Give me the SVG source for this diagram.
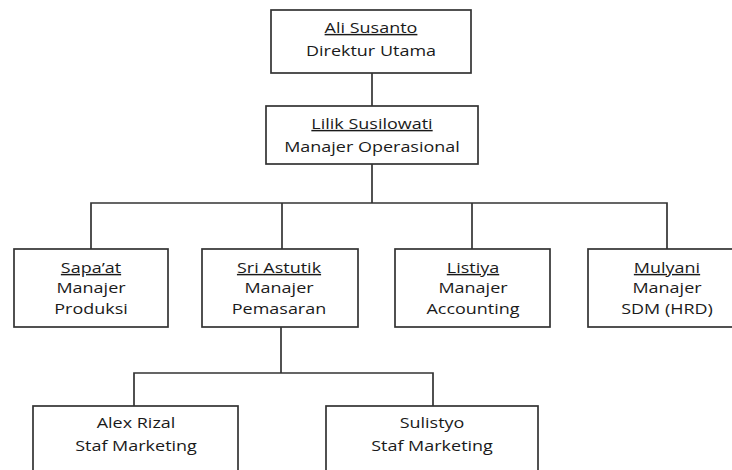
<svg xmlns="http://www.w3.org/2000/svg" width="732" height="470" viewBox="0 0 732 470">
<style>
.box{fill:#fff;stroke:#333;stroke-width:1.7}
.ln{fill:none;stroke:#333;stroke-width:1.7}
text{font-family:"Open Sans","Liberation Sans",sans-serif;font-size:14.5px;font-weight:500;fill:#1a1a1a;text-anchor:middle}
.u{text-decoration:underline}
</style>
<rect width="732" height="470" fill="#fff"/>
<g id="connectors">
<path class="ln" d="M372,73V106"/>
<path class="ln" d="M372,164V203"/>
<path class="ln" d="M91,249V203H667V249"/>
<path class="ln" d="M282,203V249"/>
<path class="ln" d="M472,203V249"/>
<path class="ln" d="M281,327V373"/>
<path class="ln" d="M134,406V373H433V406"/>
</g>
<g id="ali">
<rect class="box" x="271" y="10" width="200" height="63"/>
<text class="u" transform="translate(371,33) scale(1.24,1)">Ali Susanto</text>
<text transform="translate(371,55.5) scale(1.24,1)">Direktur Utama</text>
</g>
<g id="lilik">
<rect class="box" x="266" y="106" width="212" height="58"/>
<text class="u" transform="translate(372,129) scale(1.24,1)">Lilik Susilowati</text>
<text transform="translate(372,152) scale(1.24,1)">Manajer Operasional</text>
</g>
<g id="sapaat">
<rect class="box" x="14" y="249" width="154" height="78"/>
<text class="u" transform="translate(91,273) scale(1.24,1)">Sapa’at</text>
<text transform="translate(91,293) scale(1.24,1)">Manajer</text>
<text transform="translate(91,314) scale(1.24,1)">Produksi</text>
</g>
<g id="sri">
<rect class="box" x="202" y="249" width="156" height="78"/>
<text class="u" transform="translate(279,273) scale(1.24,1)">Sri Astutik</text>
<text transform="translate(279,293) scale(1.24,1)">Manajer</text>
<text transform="translate(279,314) scale(1.24,1)">Pemasaran</text>
</g>
<g id="listiya">
<rect class="box" x="395" y="249" width="155" height="78"/>
<text class="u" transform="translate(473,273) scale(1.24,1)">Listiya</text>
<text transform="translate(473,293) scale(1.24,1)">Manajer</text>
<text transform="translate(473,314) scale(1.24,1)">Accounting</text>
</g>
<g id="mulyani">
<rect class="box" x="588" y="249" width="158" height="78"/>
<text class="u" transform="translate(667,273) scale(1.24,1)">Mulyani</text>
<text transform="translate(667,293) scale(1.24,1)">Manajer</text>
<text transform="translate(667,314) scale(1.24,1)">SDM (HRD)</text>
</g>
<g id="alex">
<rect class="box" x="33" y="406" width="205" height="80"/>
<text transform="translate(136,428) scale(1.24,1)">Alex Rizal</text>
<text transform="translate(136,451) scale(1.24,1)">Staf Marketing</text>
</g>
<g id="sulistyo">
<rect class="box" x="326" y="406" width="212" height="80"/>
<text transform="translate(432,428) scale(1.24,1)">Sulistyo</text>
<text transform="translate(432,451) scale(1.24,1)">Staf Marketing</text>
</g>
</svg>
